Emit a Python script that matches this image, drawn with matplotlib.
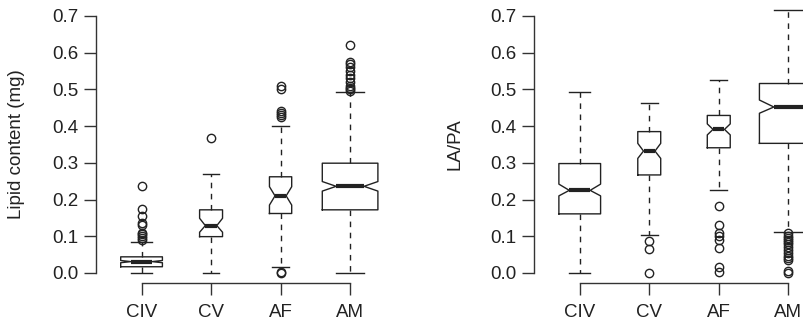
import matplotlib
matplotlib.use("Agg")
import matplotlib.pyplot as plt

plt.rcParams['font.family'] = ['Liberation Sans', 'DejaVu Sans']

stages = ['CIV', 'CV', 'AF', 'AM']

# left panel: lipid content (mg)
lip_med = [0.031, 0.129, 0.210, 0.236]
lip_q1 = [0.017, 0.099, 0.162, 0.172]
lip_q3 = [0.044, 0.172, 0.262, 0.299]
lip_cilo = [0.028, 0.111, 0.185, 0.223]
lip_cihi = [0.034, 0.149, 0.235, 0.249]
lip_wlo = [0.0, 0.0, 0.017, 0.0]
lip_whi = [0.085, 0.269, 0.399, 0.492]
lip_fliers = [
    [0.09, 0.095, 0.10, 0.105, 0.11, 0.13, 0.135, 0.155, 0.173, 0.236],
    [0.367],
    [0.0, 0.003, 0.425, 0.43, 0.435, 0.44, 0.50, 0.51],
    [0.495, 0.50, 0.505, 0.51, 0.52, 0.53, 0.54, 0.55, 0.56, 0.57, 0.575, 0.62],
]

# right panel: LA/PA
lapa_med = [0.225, 0.332, 0.391, 0.452]
lapa_q1 = [0.161, 0.267, 0.341, 0.353]
lapa_q3 = [0.298, 0.385, 0.429, 0.516]
lapa_cilo = [0.210, 0.312, 0.376, 0.435]
lapa_cihi = [0.242, 0.353, 0.406, 0.471]
lapa_wlo = [0.0, 0.103, 0.227, 0.111]
lapa_whi = [0.493, 0.462, 0.526, 0.717]
lapa_fliers = [
    [],
    [0.088, 0.066, 0.0],
    [0.183, 0.131, 0.11, 0.10, 0.09, 0.067, 0.015, 0.002],
    [0.108, 0.102, 0.096, 0.09, 0.084, 0.078, 0.07, 0.062, 0.055, 0.045,
     0.04, 0.035, 0.005, 0.0],
]

widths_left = [0.60, 0.33, 0.32, 0.80]
widths_right = [0.60, 0.33, 0.33, 0.83]

ink = '#222222'


def make_stats(med, q1, q3, cilo, cihi, wlo, whi, fliers):
    out = []
    for i in range(len(med)):
        out.append(dict(med=med[i], q1=q1[i], q3=q3[i], cilo=cilo[i],
                        cihi=cihi[i], whislo=wlo[i], whishi=whi[i],
                        fliers=fliers[i]))
    return out


def draw(ax, stats, widths, ylabel):
    ax.bxp(stats, positions=range(1, 5), widths=widths, shownotches=True,
           capwidths=[max(0.5 * w, 0.24) for w in widths],
           boxprops=dict(color=ink, lw=1.0),
           medianprops=dict(color=ink, lw=3.0, solid_capstyle='butt'),
           whiskerprops=dict(color=ink, lw=1.0, linestyle=(0, (4, 4))),
           capprops=dict(color=ink, lw=1.0),
           flierprops=dict(marker='o', markersize=6, markerfacecolor='none',
                           markeredgecolor=ink, markeredgewidth=1.0))
    ax.set_xlim(0.34, 4.66)
    ax.set_ylim(-0.028, 0.728)
    ax.set_yticks([0, 0.1, 0.2, 0.3, 0.4, 0.5, 0.6, 0.7])
    ax.set_yticklabels(['0.0', '0.1', '0.2', '0.3', '0.4', '0.5', '0.6', '0.7'])
    ax.set_xticks(range(1, 5))
    ax.set_xticklabels(stages)
    for s in ['top', 'right']:
        ax.spines[s].set_visible(False)
    ax.spines['left'].set_bounds(0, 0.7)
    ax.spines['bottom'].set_bounds(1, 4)
    for s in ['left', 'bottom']:
        ax.spines[s].set_color('#333333')
        ax.spines[s].set_linewidth(1.0)
    ax.tick_params(axis='both', length=8.6, width=1.0, color='#333333',
                   labelsize=13.5, labelcolor=ink)
    ax.tick_params(axis='y', pad=4)
    ax.tick_params(axis='x', pad=6)
    ax.set_ylabel(ylabel, fontsize=13.5, color=ink)
    ax.yaxis.set_label_coords(-0.235, 0.5)


fig = plt.figure(figsize=(8.04, 3.23), dpi=100)
ax1 = fig.add_axes([0.119, 0.123, 0.3735, 0.8595])
ax2 = fig.add_axes([0.664, 0.123, 0.3735, 0.8595])

draw(ax1, make_stats(lip_med, lip_q1, lip_q3, lip_cilo, lip_cihi,
                     lip_wlo, lip_whi, lip_fliers), widths_left,
     'Lipid content (mg)')
draw(ax2, make_stats(lapa_med, lapa_q1, lapa_q3, lapa_cilo, lapa_cihi,
                     lapa_wlo, lapa_whi, lapa_fliers), widths_right, 'LA/PA')

fig.savefig('out.png', dpi=100)
